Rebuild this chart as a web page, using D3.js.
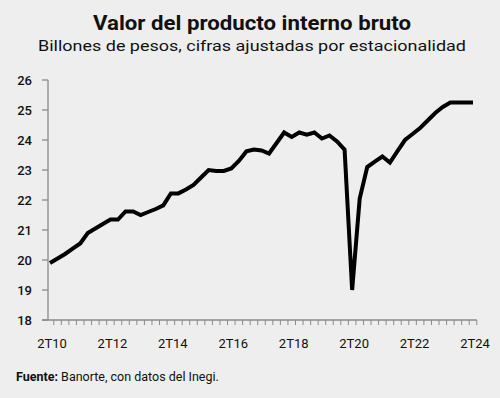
<!DOCTYPE html>
<html>
<head>
<meta charset="utf-8">
<script src="https://cdn.jsdelivr.net/npm/d3@7"></script>
<style>
  html, body { margin: 0; padding: 0; background: #eeeeee; }
  svg { display: block; }
  text { font-family: Roboto, "Noto Sans", sans-serif; fill: #111; }
</style>
</head>
<body>
<svg id="chart" width="500" height="398"></svg>
<script>
// PIB trimestral, 2T10 a 2T24 (billones de pesos)
const values = [
  19.9, 20.05, 20.2, 20.38, 20.55, 20.9, 21.05, 21.2, 21.35, 21.35,
  21.62, 21.62, 21.5, 21.6, 21.7, 21.82, 22.22, 22.22, 22.35, 22.5,
  22.75, 23.0, 22.97, 22.97, 23.05, 23.3, 23.62, 23.68, 23.65, 23.55,
  23.9, 24.25, 24.1, 24.25, 24.18, 24.25, 24.05, 24.15, 23.95, 23.68,
  19.0, 22.05, 23.1, 23.28, 23.45, 23.25, 23.63, 24.0, 24.2, 24.4,
  24.65, 24.9, 25.1, 25.25, 25.25, 25.25, 25.25
];
const xTickLabels = ['2T10', '2T12', '2T14', '2T16', '2T18', '2T20', '2T22', '2T24'];
const yTicks = [18, 19, 20, 21, 22, 23, 24, 25, 26];

const svg = d3.select('#chart');

const x = d3.scaleLinear().domain([0, values.length - 1]).range([50, 473]);
const y = d3.scaleLinear().domain([18, 26]).range([320, 80]);

// titulos
svg.append('text')
  .attr('x', 252).attr('y', 29.5)
  .attr('text-anchor', 'middle')
  .attr('font-size', 20).attr('font-weight', 700)
  .attr('textLength', 318).attr('lengthAdjust', 'spacingAndGlyphs')
  .text('Valor del producto interno bruto');

svg.append('text')
  .attr('x', 252).attr('y', 51)
  .attr('text-anchor', 'middle')
  .attr('font-size', 15.5)
  .attr('textLength', 428).attr('lengthAdjust', 'spacingAndGlyphs')
  .text('Billones de pesos, cifras ajustadas por estacionalidad');

// eje y
const yAxis = svg.append('g').attr('transform', 'translate(48,0)');
yAxis.append('line')
  .attr('x1', 0).attr('x2', 0)
  .attr('y1', y(26)).attr('y2', y(18))
  .attr('stroke', '#8a8a8a').attr('stroke-width', 1.3);
yAxis.selectAll('.ytick')
  .data(yTicks)
  .enter().append('line')
  .attr('class', 'ytick')
  .attr('x1', -6).attr('x2', 0)
  .attr('y1', d => y(d)).attr('y2', d => y(d))
  .attr('stroke', '#8a8a8a').attr('stroke-width', 1.3);
yAxis.selectAll('.ylab')
  .data(yTicks)
  .enter().append('text')
  .attr('class', 'ylab')
  .attr('x', -16).attr('y', d => y(d))
  .attr('dy', '0.35em')
  .attr('text-anchor', 'end')
  .attr('font-size', 13).attr('font-weight', 500)
  .text(d => d);

// eje x con marcas por trimestre
const xAxis = svg.append('g');
xAxis.append('line')
  .attr('x1', 42).attr('x2', x(values.length - 0.5))
  .attr('y1', y(18)).attr('y2', y(18))
  .attr('stroke', '#8a8a8a').attr('stroke-width', 1.3);
xAxis.selectAll('.xtick')
  .data(d3.range(0.5, values.length, 1))
  .enter().append('line')
  .attr('class', 'xtick')
  .attr('x1', d => x(d)).attr('x2', d => x(d))
  .attr('y1', y(18)).attr('y2', y(18) + 5)
  .attr('stroke', '#8a8a8a').attr('stroke-width', 1);
xAxis.selectAll('.xlab')
  .data(xTickLabels)
  .enter().append('text')
  .attr('class', 'xlab')
  .attr('x', (d, i) => x(i * 8) + 2)
  .attr('y', 348)
  .attr('text-anchor', 'middle')
  .attr('font-size', 13)
  .text(d => d);

// serie
const line = d3.line()
  .x((d, i) => x(i))
  .y(d => y(d));

svg.append('path')
  .datum(values)
  .attr('d', line)
  .attr('fill', 'none')
  .attr('stroke', '#000')
  .attr('stroke-width', 4)
  .attr('stroke-linejoin', 'miter')
  .attr('stroke-miterlimit', 3);

// fuente
const src = svg.append('text')
  .attr('x', 16).attr('y', 381)
  .attr('font-size', 12.5);
src.append('tspan').attr('font-weight', 700).text('Fuente:');
src.append('tspan').text(' Banorte, con datos del Inegi.');
</script>
</body>
</html>
